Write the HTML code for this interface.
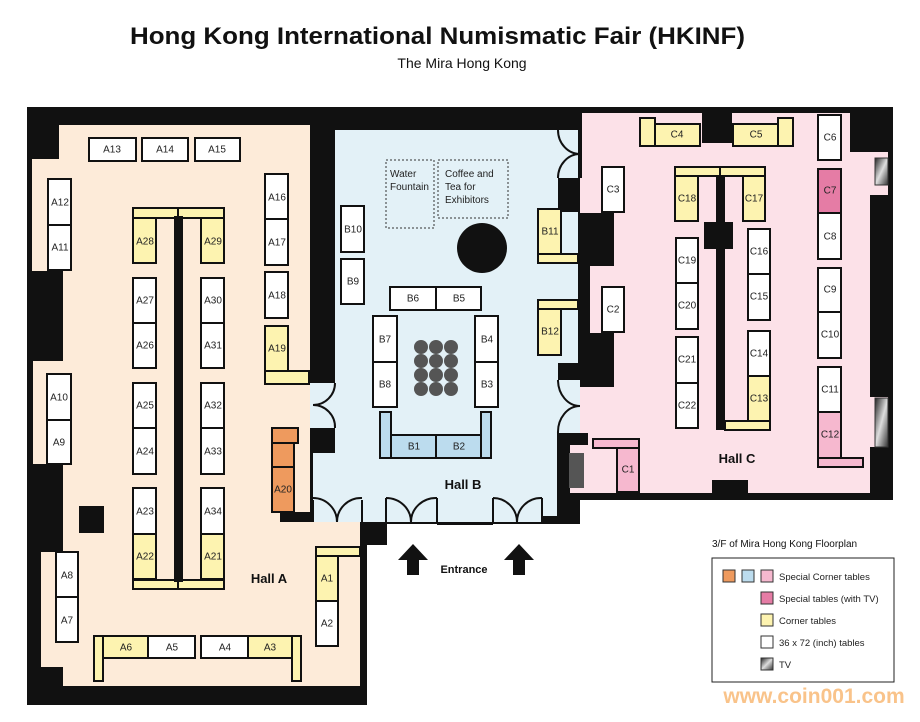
<!DOCTYPE html>
<html><head><meta charset="utf-8"><style>
html,body{margin:0;padding:0;background:#fff;}
svg{display:block;font-family:"Liberation Sans",Arial,sans-serif;}
.t{stroke:#111;stroke-width:2;}
.w{fill:#fff}.y{fill:#fdf3b0}.o{fill:#ee9a5e}.b{fill:#bcdcee}.lp{fill:#f6b8cf}.dp{fill:#e57ca5}
text.l{font-size:10px;fill:#222;text-anchor:middle;dominant-baseline:middle}
.door{fill:none;stroke:#111;stroke-width:2}
</style></head><body>
<svg width="920" height="722" viewBox="0 0 920 722">
<defs><linearGradient id="tv" x1="0" x2="1" y1="0" y2="1"><stop offset="0" stop-color="#222"/><stop offset="0.5" stop-color="#ddd"/><stop offset="1" stop-color="#333"/></linearGradient></defs>
<text x="130" y="44" font-size="24" font-weight="bold" textLength="615" lengthAdjust="spacingAndGlyphs" fill="#111">Hong Kong International Numismatic Fair (HKINF)</text>
<text x="462" y="68" font-size="14" text-anchor="middle" fill="#111">The  Mira Hong Kong</text>

<rect x="27" y="107" width="340" height="598" fill="#111"/>
<rect x="310" y="107" width="270" height="417" fill="#111"/>
<rect x="557" y="107" width="336" height="393" fill="#111"/>
<rect x="362" y="520" width="25" height="25" fill="#111"/>

<polygon fill="#fdebd9" points="59,125 310,125 310,512 280,512 280,522 360,522 360,686 63,686 63,667 41,667 41,552 63,552 63,464 33,464 33,361 63,361 63,271 32,271 32,159 59,159"/>
<polygon fill="#e3f1f7" points="335,130 578,130 578,178 558,178 558,212 578,212 578,363 558,363 558,380 580,380 580,433 557,433 557,516 542,516 542,522 313,522 313,453 335,453 335,428 310,428 310,383 335,383"/>
<rect x="437" y="522" width="56" height="3" fill="#111"/>
<rect x="542" y="516" width="28" height="7" fill="#111"/>
<polygon fill="#fce1e8" points="582,113 702,113 702,143 732,143 732,113 850,113 850,152 888,152 888,195 870,195 870,397 888,397 888,447 870,447 870,493 748,493 748,480 712,480 712,493 570,493 570,445 588,445 588,433 580,433 580,387 614,387 614,333 590,333 590,266 614,266 614,213 580,213 580,178 582,178"/>
<rect x="569" y="453" width="15" height="35" fill="#555"/>
<rect x="875" y="158" width="13" height="27" fill="url(#tv)" stroke="#333"/>
<rect x="875" y="398" width="13" height="49" fill="url(#tv)" stroke="#333"/>

<path class="door" d="M313,500 L313,522 M362,500 L362,522 M313,498 A24,24 0 0 1 337,522 A24,24 0 0 1 362,498"/>
<path class="door" d="M386,498 L386,522 M437,498 L437,524 M386,498 A25,24 0 0 1 411,522 A25,24 0 0 1 437,498"/>
<path class="door" d="M493,498 L493,524 M542,498 L542,522 M493,498 A24,24 0 0 1 517,522 A24,24 0 0 1 542,498"/>
<path class="door" d="M335,383 A22,22 0 0 1 313,405 A22,22 0 0 1 335,428"/>
<path class="door" d="M558,380 A22,26 0 0 0 580,406 A22,26 0 0 0 558,433"/>
<path class="door" d="M558,130 A22,24 0 0 0 580,154 A22,24 0 0 0 558,178"/>

<g class="t">
<rect class="w" x="89" y="138" width="47" height="23"/><rect class="w" x="142" y="138" width="46" height="23"/><rect class="w" x="195" y="138" width="45" height="23"/>
<rect class="w" x="48" y="179" width="23" height="46"/><rect class="w" x="48" y="225" width="23" height="45"/>
<rect class="y" x="133" y="208" width="45" height="10"/><rect class="y" x="178" y="208" width="46" height="10"/>
<rect class="y" x="133" y="218" width="23" height="45"/><rect class="y" x="201" y="218" width="23" height="45"/>
<rect class="w" x="133" y="278" width="23" height="45"/><rect class="w" x="133" y="323" width="23" height="45"/>
<rect class="w" x="201" y="278" width="23" height="45"/><rect class="w" x="201" y="323" width="23" height="45"/>
<rect class="w" x="133" y="383" width="23" height="45"/><rect class="w" x="133" y="428" width="23" height="46"/>
<rect class="w" x="201" y="383" width="23" height="45"/><rect class="w" x="201" y="428" width="23" height="46"/>
<rect class="w" x="133" y="488" width="23" height="46"/><rect class="y" x="133" y="534" width="23" height="45"/>
<rect class="w" x="201" y="488" width="23" height="46"/><rect class="y" x="201" y="534" width="23" height="45"/>
<rect class="y" x="133" y="580" width="45" height="9"/><rect class="y" x="178" y="580" width="46" height="9"/>
<rect class="w" x="265" y="174" width="23" height="45"/><rect class="w" x="265" y="219" width="23" height="46"/>
<rect class="w" x="265" y="272" width="23" height="46"/>
<rect class="y" x="265" y="326" width="23" height="45"/><rect class="y" x="265" y="371" width="44" height="13"/>
<rect class="w" x="47" y="374" width="24" height="46"/><rect class="w" x="47" y="420" width="24" height="44"/>
<rect class="o" x="272" y="428" width="26" height="15"/><rect class="o" x="272" y="443" width="22" height="24"/><rect class="o" x="272" y="467" width="22" height="45"/>
<rect class="w" x="56" y="552" width="22" height="45"/><rect class="w" x="56" y="597" width="22" height="45"/>
<rect class="y" x="94" y="636" width="9" height="45"/><rect class="y" x="103" y="636" width="45" height="22"/><rect class="w" x="148" y="636" width="47" height="22"/>
<rect class="w" x="201" y="636" width="47" height="22"/><rect class="y" x="248" y="636" width="44" height="22"/><rect class="y" x="292" y="636" width="9" height="45"/>
<rect class="y" x="316" y="547" width="44" height="9"/><rect class="y" x="316" y="556" width="22" height="45"/><rect class="w" x="316" y="601" width="22" height="45"/>
</g>
<rect x="174" y="216" width="9" height="366" fill="#111"/>
<rect x="79" y="506" width="25" height="27" fill="#111"/>
<rect x="280" y="512" width="33" height="10" fill="#111"/>
<rect x="313" y="428" width="22" height="25" fill="#111"/>

<rect x="386" y="160" width="48" height="68" fill="none" stroke="#333" stroke-dasharray="2,2"/>
<rect x="438" y="160" width="70" height="58" fill="none" stroke="#333" stroke-dasharray="2,2"/>
<text x="390" y="177" font-size="10" fill="#222">Water</text><text x="390" y="190" font-size="10" fill="#222">Fountain</text>
<text x="445" y="177" font-size="10" fill="#222">Coffee and</text><text x="445" y="190" font-size="10" fill="#222">Tea for</text><text x="445" y="203" font-size="10" fill="#222">Exhibitors</text>
<circle cx="482" cy="248" r="25" fill="#111"/>
<g class="t">
<rect class="w" x="341" y="206" width="23" height="46"/><rect class="w" x="341" y="259" width="23" height="45"/>
<rect class="w" x="390" y="287" width="46" height="23"/><rect class="w" x="436" y="287" width="45" height="23"/>
<rect class="w" x="373" y="316" width="24" height="46"/><rect class="w" x="373" y="362" width="24" height="45"/>
<rect class="w" x="475" y="316" width="23" height="46"/><rect class="w" x="475" y="362" width="23" height="45"/>
<rect class="y" x="538" y="209" width="23" height="45"/><rect class="y" x="538" y="254" width="40" height="9"/>
<rect class="y" x="538" y="300" width="40" height="9"/><rect class="y" x="538" y="309" width="23" height="46"/>
<rect class="b" x="380" y="412" width="11" height="46"/><rect class="b" x="391" y="435" width="45" height="23"/><rect class="b" x="436" y="435" width="45" height="23"/><rect class="b" x="481" y="412" width="10" height="46"/>
</g>
<g fill="#555">
<circle cx="421" cy="347" r="7"/><circle cx="436" cy="347" r="7"/><circle cx="451" cy="347" r="7"/>
<circle cx="421" cy="361" r="7"/><circle cx="436" cy="361" r="7"/><circle cx="451" cy="361" r="7"/>
<circle cx="421" cy="375" r="7"/><circle cx="436" cy="375" r="7"/><circle cx="451" cy="375" r="7"/>
<circle cx="421" cy="389" r="7"/><circle cx="436" cy="389" r="7"/><circle cx="451" cy="389" r="7"/>
</g>

<g class="t">
<rect class="y" x="640" y="118" width="15" height="28"/><rect class="y" x="655" y="124" width="45" height="22"/>
<rect class="y" x="733" y="124" width="45" height="22"/><rect class="y" x="778" y="118" width="15" height="28"/>
<rect class="w" x="818" y="115" width="23" height="45"/>
<rect class="dp" x="818" y="169" width="23" height="44"/><rect class="w" x="818" y="213" width="23" height="46"/>
<rect class="w" x="818" y="268" width="23" height="44"/><rect class="w" x="818" y="312" width="23" height="46"/>
<rect class="w" x="818" y="367" width="23" height="45"/><rect class="lp" x="818" y="412" width="23" height="46"/><rect class="lp" x="818" y="458" width="45" height="9"/>
<rect class="w" x="602" y="167" width="22" height="45"/><rect class="w" x="602" y="287" width="22" height="45"/>
<rect class="y" x="675" y="167" width="45" height="9"/><rect class="y" x="720" y="167" width="45" height="9"/>
<rect class="y" x="675" y="176" width="23" height="45"/><rect class="y" x="743" y="176" width="22" height="45"/>
<rect class="w" x="676" y="238" width="22" height="45"/><rect class="w" x="676" y="283" width="22" height="46"/>
<rect class="w" x="676" y="337" width="22" height="46"/><rect class="w" x="676" y="383" width="22" height="45"/>
<rect class="w" x="748" y="229" width="22" height="45"/><rect class="w" x="748" y="274" width="22" height="46"/>
<rect class="w" x="748" y="331" width="22" height="45"/><rect class="y" x="748" y="376" width="22" height="45"/><rect class="y" x="725" y="421" width="45" height="9"/>
<rect class="lp" x="593" y="439" width="46" height="9"/><rect class="lp" x="617" y="448" width="22" height="44"/>
</g>
<rect x="716" y="176" width="9" height="254" fill="#111"/>
<rect x="704" y="222" width="29" height="27" fill="#111"/>

<g>
<text class="l" x="112" y="150">A13</text><text class="l" x="165" y="150">A14</text><text class="l" x="217" y="150">A15</text>
<text class="l" x="60" y="203">A12</text><text class="l" x="60" y="248">A11</text>
<text class="l" x="145" y="242">A28</text><text class="l" x="213" y="242">A29</text>
<text class="l" x="145" y="301">A27</text><text class="l" x="145" y="346">A26</text><text class="l" x="213" y="301">A30</text><text class="l" x="213" y="346">A31</text>
<text class="l" x="145" y="406">A25</text><text class="l" x="145" y="452">A24</text><text class="l" x="213" y="406">A32</text><text class="l" x="213" y="452">A33</text>
<text class="l" x="145" y="512">A23</text><text class="l" x="145" y="557">A22</text><text class="l" x="213" y="512">A34</text><text class="l" x="213" y="557">A21</text>
<text class="l" x="277" y="198">A16</text><text class="l" x="277" y="243">A17</text><text class="l" x="277" y="296">A18</text><text class="l" x="277" y="349">A19</text>
<text class="l" x="59" y="398">A10</text><text class="l" x="59" y="443">A9</text>
<text class="l" x="283" y="490">A20</text>
<text class="l" x="67" y="576">A8</text><text class="l" x="67" y="621">A7</text>
<text class="l" x="126" y="648">A6</text><text class="l" x="172" y="648">A5</text><text class="l" x="225" y="648">A4</text><text class="l" x="270" y="648">A3</text>
<text class="l" x="327" y="579">A1</text><text class="l" x="327" y="624">A2</text>
<text class="l" x="353" y="230">B10</text><text class="l" x="353" y="282">B9</text>
<text class="l" x="413" y="299">B6</text><text class="l" x="459" y="299">B5</text>
<text class="l" x="385" y="340">B7</text><text class="l" x="385" y="385">B8</text><text class="l" x="487" y="340">B4</text><text class="l" x="487" y="385">B3</text>
<text class="l" x="550" y="232">B11</text><text class="l" x="550" y="332">B12</text>
<text class="l" x="414" y="447">B1</text><text class="l" x="459" y="447">B2</text>
<text class="l" x="677" y="135">C4</text><text class="l" x="756" y="135">C5</text>
<text class="l" x="830" y="138">C6</text><text class="l" x="830" y="191">C7</text><text class="l" x="830" y="237">C8</text>
<text class="l" x="830" y="290">C9</text><text class="l" x="830" y="335">C10</text><text class="l" x="830" y="390">C11</text><text class="l" x="830" y="435">C12</text>
<text class="l" x="613" y="190">C3</text><text class="l" x="613" y="310">C2</text>
<text class="l" x="687" y="199">C18</text><text class="l" x="754" y="199">C17</text>
<text class="l" x="687" y="261">C19</text><text class="l" x="687" y="306">C20</text><text class="l" x="687" y="360">C21</text><text class="l" x="687" y="406">C22</text>
<text class="l" x="759" y="252">C16</text><text class="l" x="759" y="297">C15</text><text class="l" x="759" y="354">C14</text><text class="l" x="759" y="399">C13</text>
<text class="l" x="628" y="470">C1</text>
</g>
<text x="269" y="583" font-size="13" font-weight="bold" text-anchor="middle" fill="#111">Hall A</text>
<text x="463" y="489" font-size="13" font-weight="bold" text-anchor="middle" fill="#111">Hall B</text>
<text x="737" y="463" font-size="13" font-weight="bold" text-anchor="middle" fill="#111">Hall C</text>

<polygon points="413,544 428,560 419,560 419,575 407,575 407,560 398,560" fill="#111"/>
<polygon points="519,544 534,560 525,560 525,575 513,575 513,560 504,560" fill="#111"/>
<text x="464" y="573" font-size="11" font-weight="bold" text-anchor="middle" fill="#111">Entrance</text>

<text x="712" y="547" font-size="10" fill="#111">3/F of  Mira Hong Kong Floorplan</text>
<rect x="712" y="558" width="182" height="124" fill="#fff" stroke="#222" stroke-width="1"/>
<g stroke="#333" stroke-width="1">
<rect x="723" y="570" width="12" height="12" fill="#ee9a5e"/><rect x="742" y="570" width="12" height="12" fill="#bcdcee"/><rect x="761" y="570" width="12" height="12" fill="#f6b8cf"/>
<rect x="761" y="592" width="12" height="12" fill="#e57ca5"/>
<rect x="761" y="614" width="12" height="12" fill="#fdf3b0"/>
<rect x="761" y="636" width="12" height="12" fill="#fff"/>
<rect x="761" y="658" width="12" height="12" fill="url(#tv)"/>
</g>
<g font-size="9.5" fill="#222">
<text x="779" y="580">Special Corner tables</text>
<text x="779" y="602">Special tables (with TV)</text>
<text x="779" y="624">Corner tables</text>
<text x="779" y="646">36 x 72 (inch) tables</text>
<text x="779" y="668">TV</text>
</g>
<text x="814" y="703" font-size="21" font-weight="bold" text-anchor="middle" fill="#f9c38a">www.coin001.com</text>
</svg>
</body></html>
